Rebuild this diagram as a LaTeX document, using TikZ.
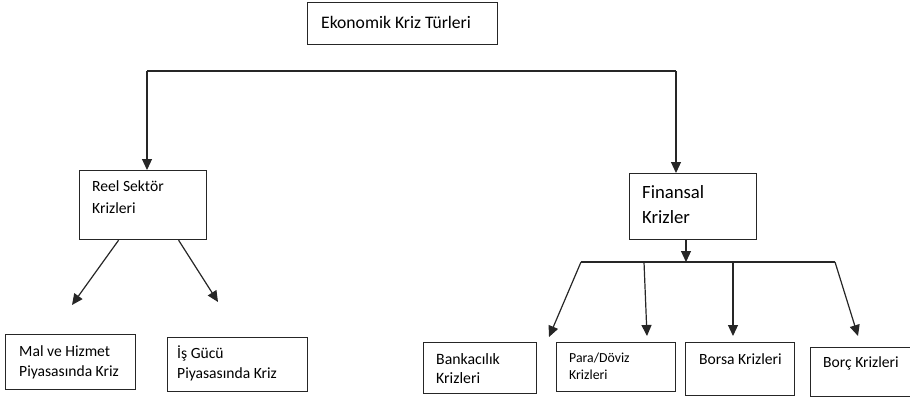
\documentclass[tikz,border=0pt]{standalone}
\usepackage{fontspec}
\setmainfont{Carlito}
\usetikzlibrary{arrows.meta}

\tikzset{
  kutu/.style={draw=black!85, line width=1.2pt, rectangle, anchor=north west, inner sep=0pt},
  yazi/.style={anchor=base west, align=left, inner sep=0pt},
  cizgi/.style={draw=black!85, line width=1.2pt},
  ok/.style={cizgi, -{Triangle[length=11pt,width=10pt]}},
}

\begin{document}
\begin{tikzpicture}[x=1pt,y=-1pt]
  \useasboundingbox (0,0) rectangle (910,399);
  \clip (0,0) rectangle (910,399);

  % kutular
  \node[kutu, minimum width=190pt, minimum height=42pt] (ust) at (307,2) {};
  \node[kutu, minimum width=127pt, minimum height=69pt] (reel) at (79,170) {};
  \node[kutu, minimum width=127pt, minimum height=66pt] (fin) at (629,173) {};
  \node[kutu, minimum width=130pt, minimum height=55pt] (mal) at (5,334) {};
  \node[kutu, minimum width=140pt, minimum height=54pt] (isg) at (167,337) {};
  \node[kutu, minimum width=113pt, minimum height=51pt] (bank) at (423,342) {};
  \node[kutu, minimum width=119pt, minimum height=49pt] (para) at (556,342) {};
  \node[kutu, minimum width=109pt, minimum height=53pt] (borsa) at (685,342) {};
  \node[kutu, minimum width=115pt, minimum height=49pt] (borc) at (810,347) {};

  % yazilar (coklu satirda taban = son satir)
  \node[yazi, font=\fontsize{17.6}{23}\selectfont] (ust-t) at (321,28) {Ekonomik Kriz Türleri};
  \node[yazi, font=\fontsize{15.6}{21.7}\selectfont] (reel-t) at (92,213) {Reel Sektör\\Krizleri};
  \node[yazi, font=\fontsize{18.7}{25}\selectfont] (fin-t) at (642,223) {Finansal\\Krizler};
  \node[yazi, font=\fontsize{15.6}{20}\selectfont] (mal-t) at (19,376) {Mal ve Hizmet\\Piyasasında Kriz};
  \node[yazi, font=\fontsize{15.6}{20}\selectfont] (isg-t) at (177,378) {İş Gücü\\Piyasasında Kriz};
  \node[yazi, font=\fontsize{15.8}{19}\selectfont] (bank-t) at (436,383) {Bankacılık\\Krizleri};
  \node[yazi, font=\fontsize{13.8}{17}\selectfont] (para-t) at (569,379) {Para/Döviz\\Krizleri};
  \node[yazi, font=\fontsize{15.6}{19}\selectfont] (borsa-t) at (699,364) {Borsa Krizleri};
  \node[yazi, font=\fontsize{15.6}{19}\selectfont] (borc-t) at (823,367) {Borç Krizleri};

  % ust baglanti
  \coordinate (sol) at (147,71);
  \coordinate (sag) at (676,71);
  \draw[cizgi] (sol) -- (sag);
  \draw[ok] (sol) -- (sol |- reel.north);
  \draw[ok] (sag) -- (sag |- fin.north);

  % reel sektor oklari
  \coordinate (r1) at (72,305);
  \coordinate (r2) at (218,302);
  \draw[ok] ([xshift=-24.5pt]reel.south) -- (r1);
  \draw[ok] ([xshift=35.5pt]reel.south) -- (r2);

  % finansal oklari
  \coordinate (bus) at (686,262);
  \coordinate (b1) at (581,262);
  \coordinate (b2) at (644,262);
  \coordinate (b3) at (733,262);
  \coordinate (b4) at (835,262);
  \draw[ok] (fin.south -| bus) -- (bus);
  \draw[cizgi] (b1) -- (b4);
  \coordinate (u1) at (549,337);
  \coordinate (u2) at (647,336);
  \coordinate (u3) at (733,336);
  \coordinate (u4) at (858,336);
  \draw[ok] (b1) -- (u1);
  \draw[ok] (b2) -- (u2);
  \draw[ok] (b3) -- (u3);
  \draw[ok] (b4) -- (u4);
\end{tikzpicture}
\end{document}
